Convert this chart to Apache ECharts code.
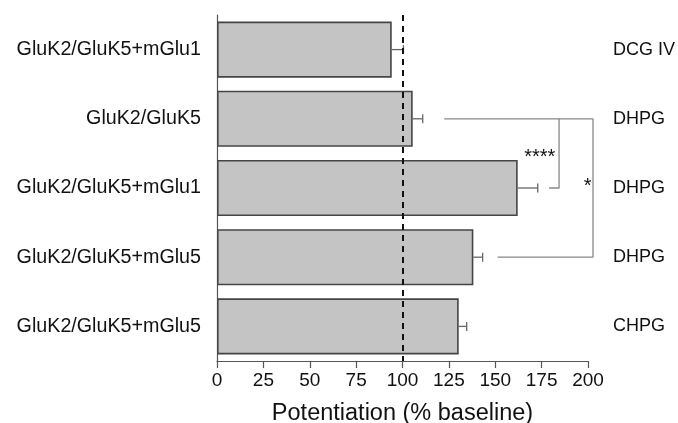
<!DOCTYPE html>
<html>
<head>
<meta charset="utf-8">
<script src="https://cdn.jsdelivr.net/npm/echarts@6/dist/echarts.min.js"></script>
<style>html,body{margin:0;padding:0;background:#fff;}#c{width:678px;height:423px;}</style>
</head>
<body>
<div id="c"></div>
<script>
var categories = ['GluK2/GluK5+mGlu1', 'GluK2/GluK5', 'GluK2/GluK5+mGlu1', 'GluK2/GluK5+mGlu5', 'GluK2/GluK5+mGlu5'];
var agonists = ['DCG IV', 'DHPG', 'DHPG', 'DHPG', 'CHPG'];
var means = [94.2, 105.5, 162.1, 138.2, 130.3];
var errors = [6.3, 5.4, 10.8, 5.0, 4.3];
var baseline = 100;
var xTicks = [0, 25, 50, 75, 100, 125, 150, 175, 200];
// significance brackets, [x value, category index]
var bracketOuter = [[122.5, 1], [202.7, 1], [202.7, 3], [151.3, 3]];
var bracketInner = [[184.4, 1], [184.4, 2], [179.0, 2]];
var sigLabels = ['****', '*'];
var sigX = [174.0, 199.8];
var sigY = [1.5, 1.92];

var FONT = 'Liberation Sans, Arial, sans-serif';
var chart = echarts.init(document.getElementById('c'), null, {renderer: 'canvas'});

function catCoord(api, x, y) {
  var lo = Math.floor(y), hi = Math.ceil(y);
  var a = api.coord([x, lo]), b = api.coord([x, hi]);
  var t = y - lo;
  return [a[0], a[1] + (b[1] - a[1]) * t];
}

var option = {
  animation: false,
  grid: {left: 217, right: 90, top: 15, bottom: 62, containLabel: false, outerBoundsMode: 'none'},
  xAxis: {
    type: 'value', min: xTicks[0], max: xTicks[xTicks.length - 1], interval: 25,
    axisLine: {show: true, lineStyle: {color: '#555', width: 1.2}},
    axisTick: {show: true, length: 7, lineStyle: {color: '#555', width: 1.2}},
    splitLine: {show: false},
    axisLabel: {fontSize: 19, color: '#111', fontFamily: FONT, margin: 10},
    name: 'Potentiation (% baseline)', nameLocation: 'middle', nameGap: 41,
    nameTextStyle: {fontSize: 23.5, color: '#111', fontFamily: FONT}
  },
  yAxis: [{
    type: 'category', data: categories, inverse: true,
    axisLine: {show: true, lineStyle: {color: '#555', width: 1.2}},
    axisTick: {show: false},
    axisLabel: {fontSize: 19.7, color: '#111', fontFamily: FONT, margin: 16}
  }, {
    type: 'category', data: agonists, inverse: true, position: 'right',
    axisLine: {show: false}, axisTick: {show: false},
    axisLabel: {fontSize: 18, color: '#111', fontFamily: FONT, margin: 25, align: 'left'}
  }],
  series: [{
    type: 'bar', data: means, barCategoryGap: '19%',
    itemStyle: {color: '#c4c4c4', borderColor: '#454545', borderWidth: 1.6},
    markLine: {
      silent: true, symbol: 'none', label: {show: false},
      lineStyle: {color: '#111', type: [6, 5], width: 2},
      data: [{xAxis: baseline}]
    }
  }, {
    type: 'custom',
    data: means.map(function (m, i) { return [i, m, errors[i]]; }),
    renderItem: function (params, api) {
      var i = api.value(0), m = api.value(1), e = api.value(2);
      var p0 = api.coord([m, i]), p1 = api.coord([m + e, i]);
      var st = {stroke: '#666', lineWidth: 1.3};
      return {type: 'group', children: [
        {type: 'line', shape: {x1: p0[0], y1: p0[1], x2: p1[0], y2: p1[1]}, style: st},
        {type: 'line', shape: {x1: p1[0], y1: p1[1] - 4.5, x2: p1[0], y2: p1[1] + 4.5}, style: st}
      ]};
    },
    z: 3
  }, {
    type: 'line', data: bracketOuter, symbol: 'none', clip: false,
    lineStyle: {color: '#888', width: 1.3}, z: 3
  }, {
    type: 'line', data: bracketInner, symbol: 'none', clip: false,
    lineStyle: {color: '#888', width: 1.3}, z: 3
  }, {
    type: 'custom', clip: false,
    data: sigLabels.map(function (s, i) { return [sigX[i], sigY[i]]; }),
    renderItem: function (params, api) {
      var p = catCoord(api, api.value(0), api.value(1));
      return {type: 'text', x: p[0], y: p[1] + 4,
        style: {text: sigLabels[params.dataIndex], fontSize: 20, fontFamily: FONT, fill: '#111',
          align: 'center', verticalAlign: 'middle'}};
    },
    z: 4
  }]
};
chart.setOption(option);
</script>
</body>
</html>
